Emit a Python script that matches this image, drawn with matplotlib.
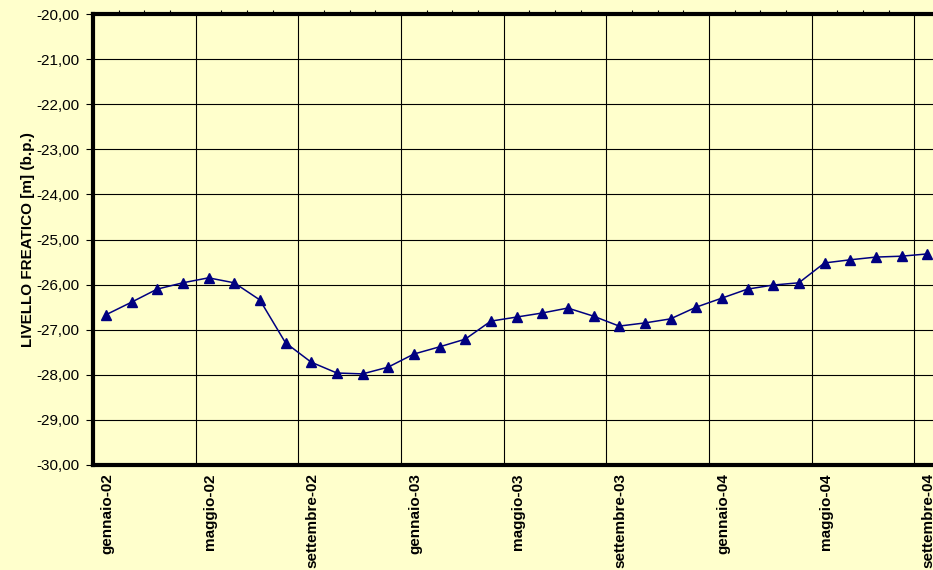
import matplotlib
matplotlib.use("Agg")
import matplotlib.pyplot as plt
from matplotlib.ticker import MultipleLocator, FuncFormatter
from matplotlib.transforms import blended_transform_factory

plt.rcParams['font.family'] = ['Liberation Sans', 'DejaVu Sans']

# Monthly water-table readings, January 2002 - September 2004
months = ["gen-02", "feb-02", "mar-02", "apr-02", "mag-02", "giu-02", "lug-02", "ago-02",
          "set-02", "ott-02", "nov-02", "dic-02", "gen-03", "feb-03", "mar-03", "apr-03",
          "mag-03", "giu-03", "lug-03", "ago-03", "set-03", "ott-03", "nov-03", "dic-03",
          "gen-04", "feb-04", "mar-04", "apr-04", "mag-04", "giu-04", "lug-04", "ago-04",
          "set-04"]
levels = [-26.67, -26.39, -26.10, -25.96, -25.85, -25.96, -26.34, -27.29,
          -27.72, -27.96, -27.98, -27.83, -27.54, -27.38, -27.21, -26.81,
          -26.72, -26.63, -26.52, -26.70, -26.92, -26.85, -26.76, -26.50,
          -26.30, -26.10, -26.01, -25.96, -25.52, -25.45, -25.39, -25.37,
          -25.32]
tick_labels = ["gennaio-02", "maggio-02", "settembre-02", "gennaio-03", "maggio-03",
               "settembre-03", "gennaio-04", "maggio-04", "settembre-04"]
y_label = "LIVELLO FREATICO [m] (b.p.)"

bg = "#FFFFCC"
navy = "#000080"

fig = plt.figure(figsize=(9.33, 5.70), dpi=100, facecolor=bg)
ax = fig.add_axes([93 / 933, 1 - 465 / 570, 847 / 933, (465 - 14) / 570])
ax.set_facecolor(bg)

# each month occupies one slot; readings sit in the middle of their slot
x = [i + 0.5 for i in range(len(months))]
ax.plot(x, levels, color=navy, lw=1.1, marker="^", markersize=7,
        markerfacecolor=navy, markeredgecolor=navy, zorder=3)

ax.set_xlim(0, len(months))
ax.set_ylim(-30, -20)

# grid every four months and every metre
ax.xaxis.set_major_locator(MultipleLocator(4))
ax.xaxis.set_minor_locator(MultipleLocator(1))
ax.yaxis.set_major_locator(MultipleLocator(1))
ax.grid(True, which="major", color="black", lw=0.8)
ax.set_axisbelow(True)

ax.tick_params(axis="x", which="major", bottom=False, top=False, labelbottom=False)
ax.tick_params(axis="x", which="minor", bottom=False, top=True, length=3,
               width=0.8, direction="out", labelbottom=False)
ax.tick_params(axis="y", which="major", left=True, length=5, width=0.8,
               direction="out", labelsize=11, pad=5)
ax.yaxis.set_major_formatter(FuncFormatter(lambda v, p: f"{v:.2f}".replace(".", ",")))

trans = blended_transform_factory(ax.transData, ax.transAxes)
for k, lab in enumerate(tick_labels):
    ax.text(4 * k + 0.55, -0.018, lab, transform=trans, rotation=90,
            ha="center", va="top", fontsize=11, fontweight="bold")

ax.set_ylabel(y_label, fontsize=11, fontweight="bold", labelpad=1)

for side in ["top", "left", "bottom"]:
    ax.spines[side].set_linewidth(3)
    ax.spines[side].set_color("black")
ax.spines["right"].set_linewidth(1)

fig.savefig("out.png", dpi=100, facecolor=bg)
